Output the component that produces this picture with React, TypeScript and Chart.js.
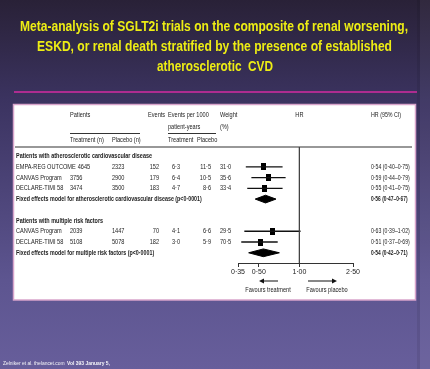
import React, { useEffect, useRef } from "react";
import { Chart, registerables } from "chart.js";

Chart.register(...registerables);

// ---------- data ----------
const TITLE_LINES = [
  "Meta-analysis of SGLT2i trials on the composite of renal worsening,",
  "ESKD, or renal death stratified by the presence of established",
  "atherosclerotic  CVD",
];
const FOOTER_NORMAL = "Zelniker et al. thelancet.com ";
const FOOTER_BOLD = "Vol 393 January 5,";

const GROUP_LABELS = [
  "Patients with atherosclerotic cardiovascular disease",
  "Patients with multiple risk factors",
];
const POOLED_LABELS = [
  "Fixed effects model for atherosclerotic cardiovascular disease (p<0·0001)",
  "Fixed effects model for multiple risk factors (p<0·0001)",
];
const STUDIES = [
  "EMPA-REG OUTCOME",
  "CANVAS Program",
  "DECLARE-TIMI 58",
  "CANVAS Program",
  "DECLARE-TIMI 58",
];
const STUDY_GROUP = [0, 0, 0, 1, 1];
const TREAT_N = [4645, 3756, 3474, 2039, 5108];
const PLACEBO_N = [2323, 2900, 3500, 1447, 5078];
const EVENTS = [152, 179, 183, 70, 182];
const RATE_TREAT = [6.3, 6.4, 4.7, 4.1, 3.0];
const RATE_PLACEBO = [11.5, 10.5, 8.6, 6.6, 5.9];
const WEIGHT = [31.0, 35.6, 33.4, 29.5, 70.5];
const HR = [0.54, 0.59, 0.55, 0.63, 0.51];
const HR_LO = [0.4, 0.44, 0.41, 0.39, 0.37];
const HR_HI = [0.75, 0.79, 0.75, 1.02, 0.69];
const POOLED_HR = [0.56, 0.54];
const POOLED_LO = [0.47, 0.42];
const POOLED_HI = [0.67, 0.71];
const X_TICKS = [0.35, 0.5, 1.0, 2.5];
const REF_VALUE = 1.0;

// ---------- helpers ----------
const FONT = '"Liberation Sans", Arial, sans-serif';
const fmt = (v: number, d: number) => v.toFixed(d).replace(".", "·");
const ciText = (h: number, l: number, u: number) =>
  `${fmt(h, 2)} (${fmt(l, 2)}–${fmt(u, 2)})`;

// rows: group header, studies, pooled row, blank
const groupHeaderRow: number[] = [];
const studyRow: number[] = [];
const pooledRow: number[] = [];
(() => {
  let r = 0;
  GROUP_LABELS.forEach((_, g) => {
    groupHeaderRow.push(r++);
    STUDIES.forEach((_, i) => {
      if (STUDY_GROUP[i] === g) studyRow[i] = r++;
    });
    pooledRow.push(r++);
    r++; // blank row
  });
})();

type TOpt = { bold?: boolean; size?: number; align?: "left" | "right" | "center"; sx?: number; color?: string; family?: string };
function put(ctx: CanvasRenderingContext2D, s: string, x: number, y: number, o: TOpt = {}) {
  const size = o.size ?? 7.2;
  const sx = o.sx ?? 0.78;
  ctx.save();
  ctx.font = `${o.bold ? "bold " : ""}${size}px ${o.family ?? FONT}`;
  ctx.fillStyle = o.color ?? "#222";
  ctx.textBaseline = "middle";
  ctx.textAlign = "left";
  const w = ctx.measureText(s).width * sx;
  const x0 = o.align === "right" ? x - w : o.align === "center" ? x - w / 2 : x;
  ctx.translate(x0, y);
  ctx.scale(sx, 1);
  ctx.fillText(s, 0, 0);
  ctx.restore();
  return x0 + w;
}
function putFit(ctx: CanvasRenderingContext2D, s: string, cx: number, baseline: number, width: number, font: string, color: string) {
  ctx.save();
  ctx.font = font;
  ctx.fillStyle = color;
  ctx.textBaseline = "alphabetic";
  ctx.textAlign = "left";
  const w = ctx.measureText(s).width;
  const sx = width / w;
  ctx.translate(cx - width / 2, baseline);
  ctx.scale(sx, 1);
  ctx.fillText(s, 0, 0);
  ctx.restore();
}

const slidePlugin = {
  id: "slide",
  beforeDraw(chart: any) {
    const ctx: CanvasRenderingContext2D = chart.ctx;
    const W = chart.width;
    const H = chart.height;
    const xs = chart.scales.x;
    const ys = chart.scales.y;

    // background
    const g = ctx.createLinearGradient(0, 0, 0, H);
    g.addColorStop(0, "#292137");
    g.addColorStop(0.27, "#3b3360");
    g.addColorStop(0.76, "#5d5590");
    g.addColorStop(1, "#675e9b");
    ctx.fillStyle = g;
    ctx.fillRect(0, 0, W, H);
    ctx.fillStyle = "rgba(0,0,0,0.08)";
    ctx.fillRect(417, 0, 3, H);
    ctx.fillStyle = "rgba(255,255,255,0.04)";
    ctx.fillRect(420, 0, 10, H);

    // title
    const tFont = `bold 14.5px ${FONT}`;
    const tWidths = [388, 355, 116];
    const tCenters = [214, 214.5, 215];
    const tBase = [31, 51, 71];
    TITLE_LINES.forEach((l, i) => putFit(ctx, l, tCenters[i], tBase[i], tWidths[i], tFont, "#eded14"));

    // magenta rule
    ctx.fillStyle = "#ad2c90";
    ctx.fillRect(14, 91, 403, 2);

    // white box
    ctx.fillStyle = "#ffffff";
    ctx.fillRect(13, 104, 403, 196);
    ctx.strokeStyle = "#d8a4cb";
    ctx.lineWidth = 1.5;
    ctx.strokeRect(13.5, 104.5, 402, 195.5);

    // header
    const hx = xs.getPixelForValue(REF_VALUE);
    put(ctx, "Patients", 70, 115);
    put(ctx, "Events", 148, 115);
    put(ctx, "Events per 1000", 168, 115);
    put(ctx, "patient-years", 168, 127);
    put(ctx, "Weight", 220, 115);
    put(ctx, "(%)", 220, 127);
    put(ctx, "HR", hx, 115, { align: "center" });
    put(ctx, "HR (95% CI)", 371, 115, { sx: 0.74 });
    put(ctx, "Treatment (n)", 70, 140);
    put(ctx, "Placebo (n)", 112, 140);
    put(ctx, "Treatment", 168, 140);
    put(ctx, "Placebo", 197, 140);

    ctx.strokeStyle = "#333";
    ctx.lineWidth = 1;
    ctx.beginPath();
    ctx.moveTo(70, 133.5);
    ctx.lineTo(140, 133.5);
    ctx.moveTo(168, 133.5);
    ctx.lineTo(216, 133.5);
    ctx.stroke();
    ctx.lineWidth = 1.2;
    ctx.beginPath();
    ctx.moveTo(15, 147);
    ctx.lineTo(412, 147);
    ctx.stroke();

    // groups
    GROUP_LABELS.forEach((lab, gi) => {
      put(ctx, lab, 16, ys.getPixelForValue(groupHeaderRow[gi]), { bold: true, sx: 0.76 });
      const py = ys.getPixelForValue(pooledRow[gi]);
      put(ctx, POOLED_LABELS[gi], 16, py, { bold: true, sx: 0.74 });
      put(ctx, ciText(POOLED_HR[gi], POOLED_LO[gi], POOLED_HI[gi]), 371, py, { bold: true, sx: 0.68 });
    });
    STUDIES.forEach((name, i) => {
      const y = ys.getPixelForValue(studyRow[i]);
      const end = put(ctx, name, 16, y);
      put(ctx, String(TREAT_N[i]), Math.max(70, end + 2), y);
      put(ctx, String(PLACEBO_N[i]), 112, y);
      put(ctx, String(EVENTS[i]), 159, y, { align: "right" });
      put(ctx, fmt(RATE_TREAT[i], 1), 172, y);
      put(ctx, fmt(RATE_PLACEBO[i], 1), 211, y, { align: "right" });
      put(ctx, fmt(WEIGHT[i], 1), 220, y);
      put(ctx, ciText(HR[i], HR_LO[i], HR_HI[i]), 371, y, { sx: 0.72 });
    });

    // favours labels
    const ay = 281;
    put(ctx, "Favours treatment", 268, 290, { align: "center" });
    put(ctx, "Favours placebo", 327, 290, { align: "center" });
    ctx.strokeStyle = "#111";
    ctx.fillStyle = "#111";
    ctx.lineWidth = 1.2;
    ctx.beginPath();
    ctx.moveTo(263, ay);
    ctx.lineTo(278, ay);
    ctx.moveTo(308, ay);
    ctx.lineTo(332, ay);
    ctx.stroke();
    ctx.beginPath();
    ctx.moveTo(259, ay);
    ctx.lineTo(264, ay - 2.5);
    ctx.lineTo(264, ay + 2.5);
    ctx.closePath();
    ctx.moveTo(337, ay);
    ctx.lineTo(332, ay - 2.5);
    ctx.lineTo(332, ay + 2.5);
    ctx.closePath();
    ctx.fill();

    // footer
    ctx.save();
    ctx.fillStyle = "#f4f4f8";
    ctx.textBaseline = "middle";
    ctx.font = `6px ${FONT}`;
    let w = ctx.measureText(FOOTER_NORMAL).width;
    ctx.translate(3, 363);
    ctx.scale(63 / w, 1);
    ctx.fillText(FOOTER_NORMAL, 0, 0);
    ctx.restore();
    ctx.save();
    ctx.fillStyle = "#f4f4f8";
    ctx.textBaseline = "middle";
    ctx.font = `bold 6px ${FONT}`;
    w = ctx.measureText(FOOTER_BOLD).width;
    ctx.translate(67, 363);
    ctx.scale(43 / w, 1);
    ctx.fillText(FOOTER_BOLD, 0, 0);
    ctx.restore();
  },
};

function makeSquare(): HTMLCanvasElement {
  const c = document.createElement("canvas");
  c.width = 5;
  c.height = 7;
  const cx = c.getContext("2d")!;
  cx.fillStyle = "#000";
  cx.fillRect(0, 0, 5, 7);
  return c;
}

export default function App() {
  const ref = useRef<HTMLCanvasElement | null>(null);
  useEffect(() => {
    if (!ref.current) return;
    const yMin = -0.85;
    const yMax = pooledRow[pooledRow.length - 1] + 0.95;
    const datasets: any[] = [];
    datasets.push({
      data: [
        { x: REF_VALUE, y: yMin },
        { x: REF_VALUE, y: yMax },
      ],
      borderColor: "#444",
      borderWidth: 1,
      pointRadius: 0,
    });
    STUDIES.forEach((_, i) => {
      datasets.push({
        data: [
          { x: HR_LO[i], y: studyRow[i] },
          { x: HR_HI[i], y: studyRow[i] },
        ],
        borderColor: "#111",
        borderWidth: 1.4,
        pointRadius: 0,
      });
    });
    const sq = makeSquare();
    datasets.push({
      data: STUDIES.map((_, i) => ({ x: HR[i], y: studyRow[i] })),
      showLine: false,
      pointStyle: sq,
      pointRadius: 3,
      backgroundColor: "#000",
      borderColor: "#000",
    });
    POOLED_HR.forEach((h, gi) => {
      const r = pooledRow[gi];
      datasets.push({
        data: [
          { x: POOLED_LO[gi], y: r },
          { x: h, y: r - 0.36 },
          { x: POOLED_HI[gi], y: r },
          { x: h, y: r + 0.36 },
          { x: POOLED_LO[gi], y: r },
        ],
        fill: "shape",
        backgroundColor: "#000",
        borderColor: "#000",
        borderWidth: 1,
        pointRadius: 0,
      });
    });

    const chart = new Chart(ref.current, {
      type: "line",
      data: { datasets },
      options: {
        animation: false,
        responsive: false,
        devicePixelRatio: 1,
        layout: { padding: { left: 238, right: 77, top: 147, bottom: 90 } },
        plugins: {
          legend: { display: false },
          tooltip: { enabled: false },
          title: { display: false },
        },
        scales: {
          x: {
            type: "logarithmic",
            min: X_TICKS[0],
            max: X_TICKS[X_TICKS.length - 1],
            position: "bottom",
            afterBuildTicks: (s: any) => {
              s.ticks = X_TICKS.map((v) => ({ value: v }));
            },
            afterFit: (s: any) => {
              s.height = 16;
            },
            grid: { drawOnChartArea: false, drawTicks: true, tickLength: 4, color: "#333", lineWidth: 1 },
            border: { display: true, color: "#333", width: 1 },
            ticks: {
              autoSkip: false,
              maxRotation: 0,
              padding: 1,
              color: "#222",
              font: { size: 7, family: FONT },
              callback: (v: any) => fmt(Number(v), 2),
            },
          },
          y: { type: "linear", display: false, min: yMin, max: yMax, reverse: true },
        },
      } as any,
      plugins: [slidePlugin],
    });
    return () => chart.destroy();
  }, []);
  return (
    <div style={{ position: "absolute", left: 0, top: 0, width: 430, height: 369 }}>
      <canvas ref={ref} width={430} height={369} style={{ display: "block", width: 430, height: 369 }} />
    </div>
  );
}
